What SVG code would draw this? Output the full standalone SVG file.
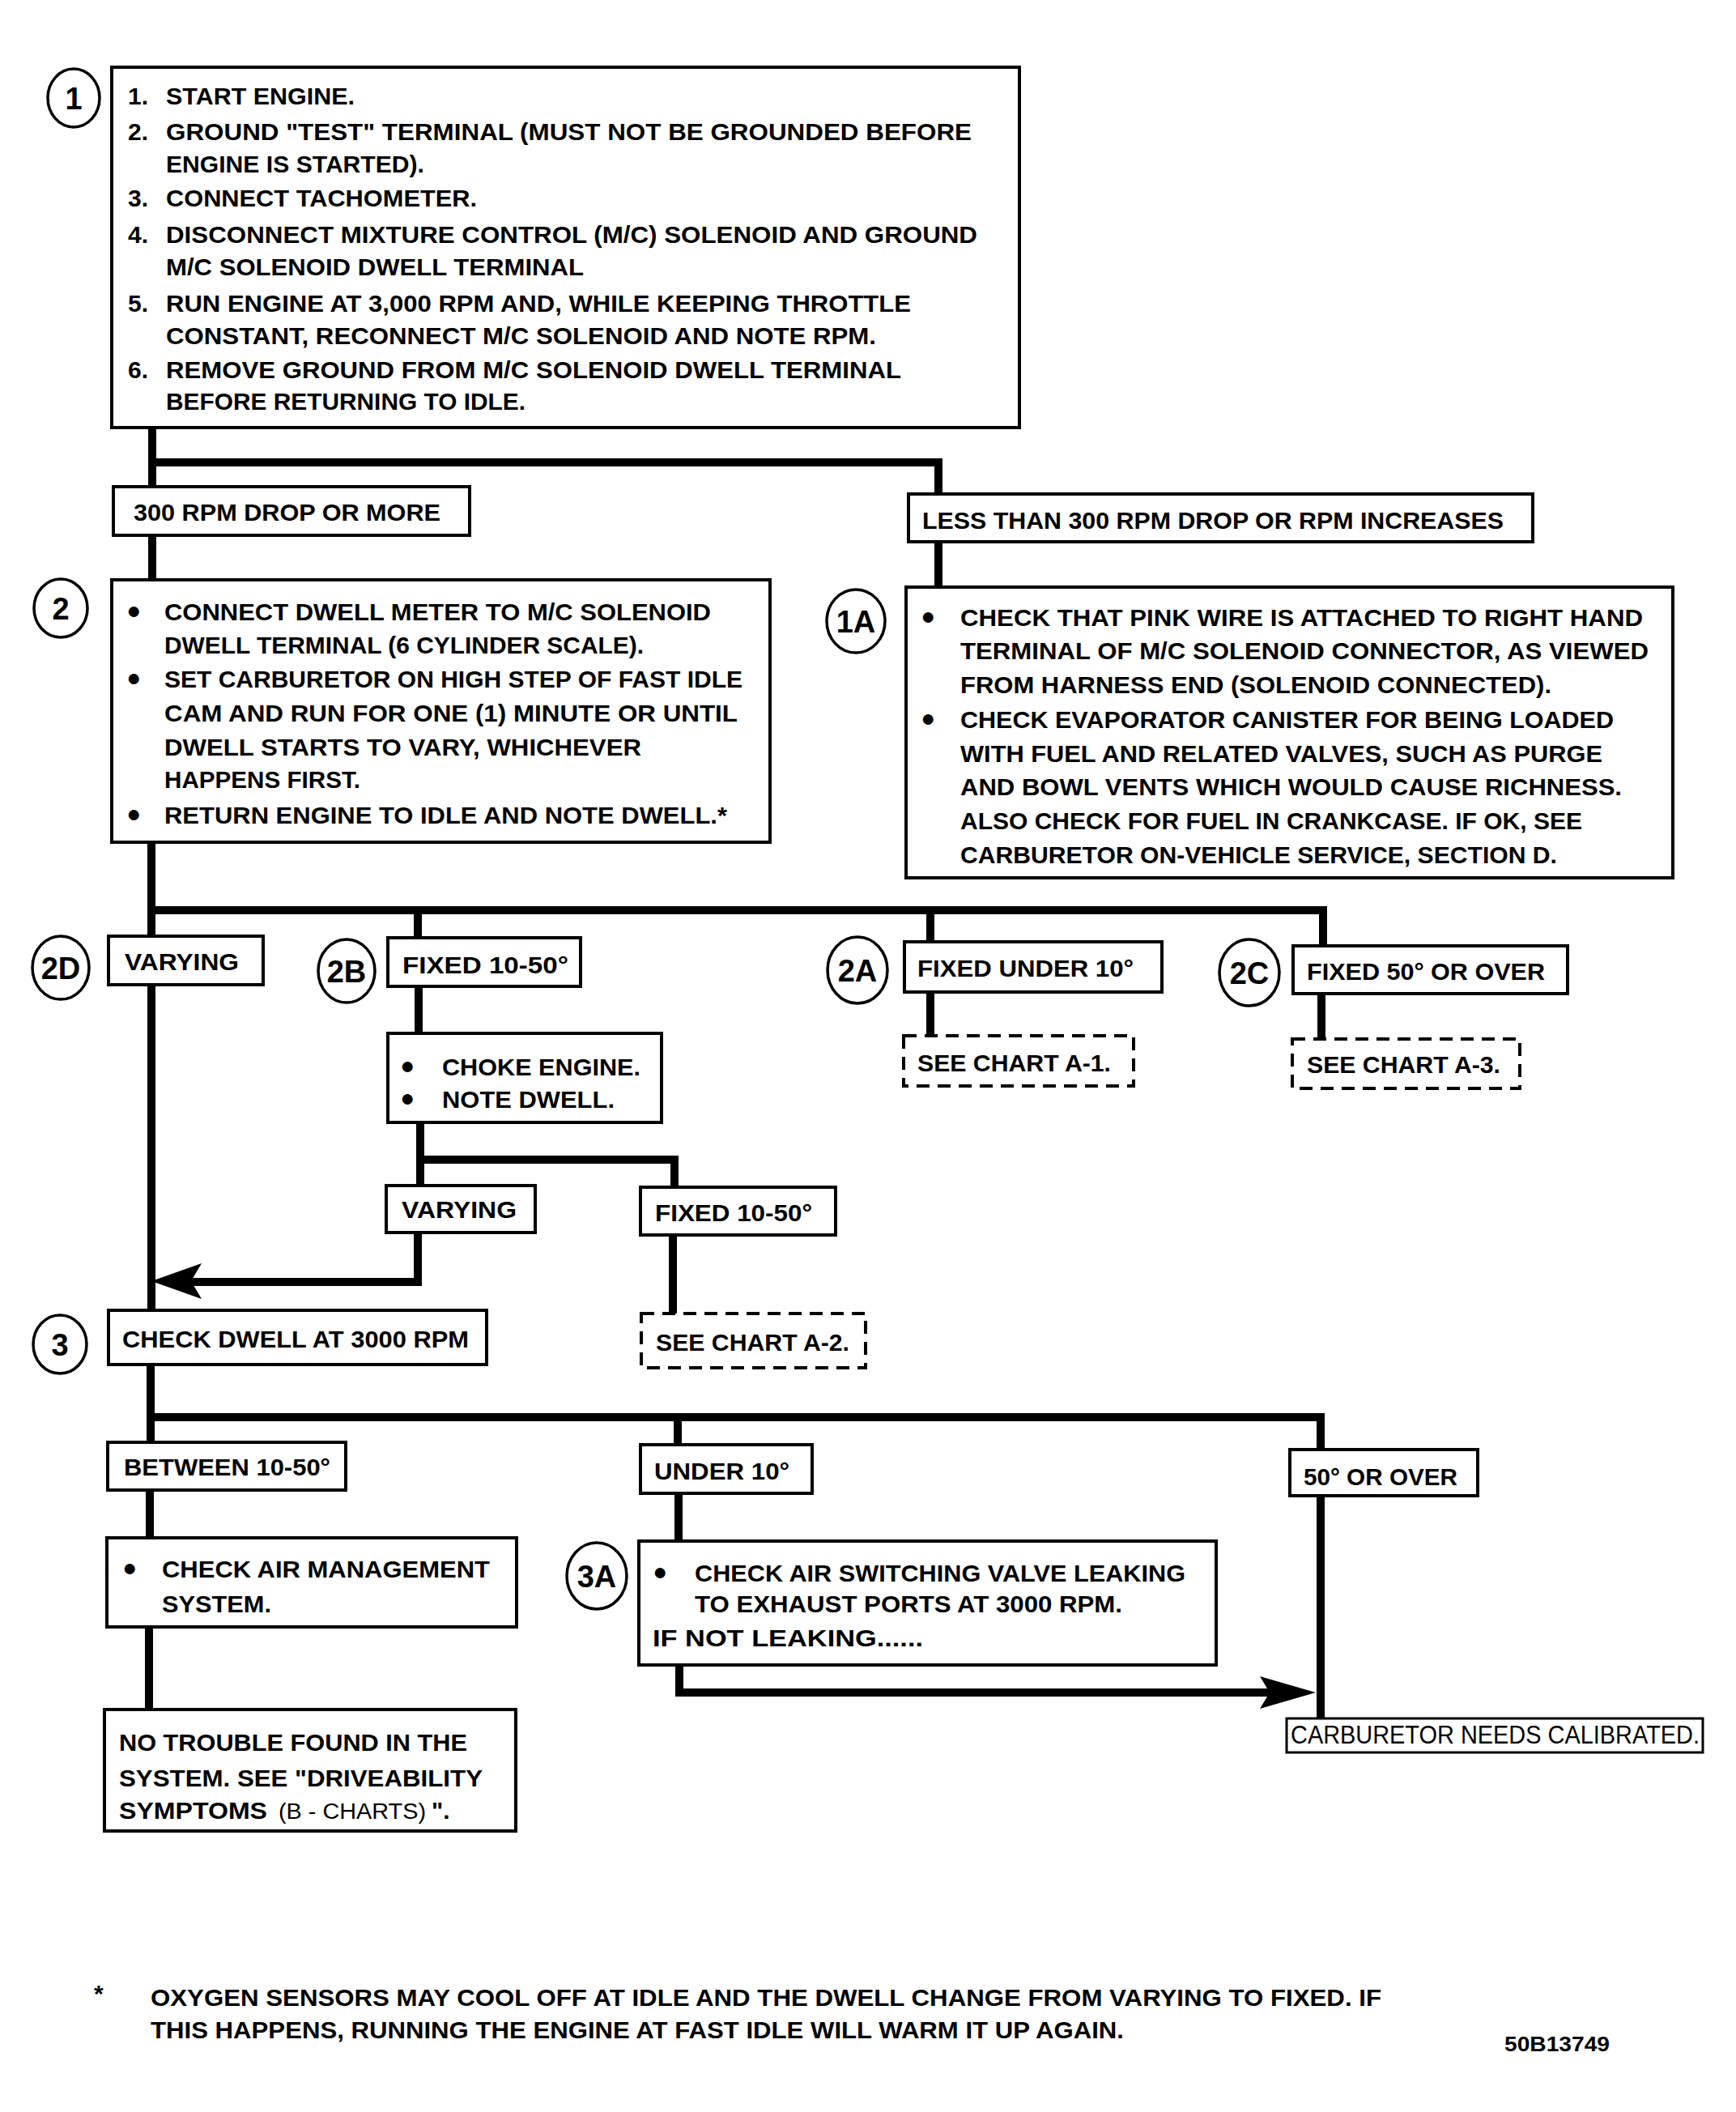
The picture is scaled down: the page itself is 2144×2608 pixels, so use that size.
<svg xmlns="http://www.w3.org/2000/svg" width="2144" height="2608" viewBox="0 0 2144 2608">
<style>
.bg{fill:#fff}
.box{fill:#fff;stroke:#000;stroke-width:4}
.dash{fill:#fff;stroke:#000;stroke-width:4;stroke-dasharray:16 10}
.circ{fill:#fff;stroke:#000;stroke-width:3.5}
.ln{fill:none;stroke:#000;stroke-width:10;stroke-linejoin:miter}
.ar{fill:#000}
text{font-family:"Liberation Sans",Arial,sans-serif;fill:#000}
.t{font-size:30px;font-weight:bold}
.n{font-size:38px;font-weight:bold;text-anchor:middle}
.b{font-size:30px;font-weight:normal;text-anchor:middle}
.r{font-size:31px;font-weight:normal}
</style>
<rect class="bg" x="0" y="0" width="2144" height="2608"/>

<g id="connectors">
<path class="ln" d="M188,528 V601 M188,661 V716"/>
<path class="ln" d="M188,571 H1159 V610 M1159,669 V725"/>
<path class="ln" d="M187,1040 V1618"/>
<path class="ln" d="M187,1124 H1634 V1168"/>
<path class="ln" d="M516,1124 V1158 M517,1218 V1276"/>
<path class="ln" d="M1149,1124 V1163 M1149,1225 V1279"/>
<path class="ln" d="M1632,1227 V1283"/>
<path class="ln" d="M519,1386 V1464 M519,1432 H833 V1466"/>
<path class="ln" d="M516,1522 V1583 H236"/>
<polygon class="ar" points="187,1582 249,1560 236,1582 249,1604"/>
<path class="ln" d="M831,1525 V1622"/>
<path class="ln" d="M186,1685 V1781 M186,1750 H1631 V1790 M837,1750 V1784"/>
<path class="ln" d="M185,1840 V1899 M184,2009 V2111"/>
<path class="ln" d="M838,1844 V1903 M839,2056 V2090 H1570"/>
<polygon class="ar" points="1625,2090 1556,2070 1568,2090 1556,2110"/>
<path class="ln" d="M1631,1847 V2122"/>
</g>

<g id="step1">
<ellipse class="circ" cx="91" cy="121" rx="32" ry="36"/>
<text class="n" x="91" y="135">1</text>
<rect class="box" x="138" y="83" width="1121" height="445"/>
<text class="t" x="158" y="129">1.</text><text class="t" x="205" y="129" textLength="233" lengthAdjust="spacingAndGlyphs">START ENGINE.</text>
<text class="t" x="158" y="173">2.</text><text class="t" x="205" y="173" textLength="995" lengthAdjust="spacingAndGlyphs">GROUND "TEST" TERMINAL  (MUST NOT BE GROUNDED BEFORE</text>
<text class="t" x="205" y="213" textLength="319" lengthAdjust="spacingAndGlyphs">ENGINE IS STARTED).</text>
<text class="t" x="158" y="255">3.</text><text class="t" x="205" y="255" textLength="384" lengthAdjust="spacingAndGlyphs">CONNECT TACHOMETER.</text>
<text class="t" x="158" y="300">4.</text><text class="t" x="205" y="300" textLength="1002" lengthAdjust="spacingAndGlyphs">DISCONNECT MIXTURE CONTROL (M/C) SOLENOID AND GROUND</text>
<text class="t" x="205" y="340" textLength="516" lengthAdjust="spacingAndGlyphs">M/C SOLENOID DWELL TERMINAL</text>
<text class="t" x="158" y="385">5.</text><text class="t" x="205" y="385" textLength="920" lengthAdjust="spacingAndGlyphs">RUN ENGINE AT 3,000 RPM AND, WHILE KEEPING THROTTLE</text>
<text class="t" x="205" y="425" textLength="877" lengthAdjust="spacingAndGlyphs">CONSTANT, RECONNECT M/C SOLENOID AND NOTE RPM.</text>
<text class="t" x="158" y="467">6.</text><text class="t" x="205" y="467" textLength="908" lengthAdjust="spacingAndGlyphs">REMOVE GROUND FROM M/C SOLENOID DWELL TERMINAL</text>
<text class="t" x="205" y="506" textLength="444" lengthAdjust="spacingAndGlyphs">BEFORE RETURNING TO IDLE.</text>
</g>

<g id="lbl-300drop">
<rect class="box" x="140" y="601" width="440" height="60"/>
<text class="t" x="165" y="643" textLength="379" lengthAdjust="spacingAndGlyphs">300 RPM DROP OR MORE</text>
</g>

<g id="lbl-lessthan">
<rect class="box" x="1122" y="610" width="771" height="59"/>
<text class="t" x="1139" y="653" textLength="718" lengthAdjust="spacingAndGlyphs">LESS THAN 300 RPM DROP OR RPM INCREASES</text>
</g>

<g id="step2">
<ellipse class="circ" cx="75" cy="751" rx="33" ry="36"/>
<text class="n" x="75" y="765">2</text>
<rect class="box" x="138" y="716" width="813" height="324"/>
<text class="b" x="165" y="764">●</text>
<text class="t" x="203" y="766" textLength="675" lengthAdjust="spacingAndGlyphs">CONNECT DWELL METER TO M/C SOLENOID</text>
<text class="t" x="203" y="807" textLength="592" lengthAdjust="spacingAndGlyphs">DWELL TERMINAL (6 CYLINDER SCALE).</text>
<text class="b" x="165" y="847">●</text>
<text class="t" x="203" y="849" textLength="714" lengthAdjust="spacingAndGlyphs">SET CARBURETOR ON HIGH STEP OF FAST IDLE</text>
<text class="t" x="203" y="891" textLength="708" lengthAdjust="spacingAndGlyphs">CAM AND RUN FOR ONE (1) MINUTE OR UNTIL</text>
<text class="t" x="203" y="933" textLength="589" lengthAdjust="spacingAndGlyphs">DWELL STARTS TO VARY, WHICHEVER</text>
<text class="t" x="203" y="973" textLength="242" lengthAdjust="spacingAndGlyphs">HAPPENS FIRST.</text>
<text class="b" x="165" y="1015">●</text>
<text class="t" x="203" y="1017" textLength="695" lengthAdjust="spacingAndGlyphs">RETURN ENGINE TO IDLE AND NOTE DWELL.*</text>
</g>

<g id="step1A">
<ellipse class="circ" cx="1057" cy="767" rx="36" ry="39"/>
<text class="n" x="1057" y="781">1A</text>
<rect class="box" x="1119" y="725" width="947" height="359"/>
<text class="b" x="1146" y="771">●</text>
<text class="t" x="1186" y="773" textLength="843" lengthAdjust="spacingAndGlyphs">CHECK THAT PINK WIRE IS ATTACHED TO RIGHT HAND</text>
<text class="t" x="1186" y="814" textLength="850" lengthAdjust="spacingAndGlyphs">TERMINAL OF M/C SOLENOID CONNECTOR, AS VIEWED</text>
<text class="t" x="1186" y="856" textLength="730" lengthAdjust="spacingAndGlyphs">FROM HARNESS END (SOLENOID CONNECTED).</text>
<text class="b" x="1146" y="897">●</text>
<text class="t" x="1186" y="899" textLength="807" lengthAdjust="spacingAndGlyphs">CHECK EVAPORATOR CANISTER FOR BEING LOADED</text>
<text class="t" x="1186" y="941" textLength="793" lengthAdjust="spacingAndGlyphs">WITH FUEL AND RELATED VALVES, SUCH AS PURGE</text>
<text class="t" x="1186" y="982" textLength="817" lengthAdjust="spacingAndGlyphs">AND BOWL VENTS WHICH WOULD CAUSE RICHNESS.</text>
<text class="t" x="1186" y="1024" textLength="768" lengthAdjust="spacingAndGlyphs">ALSO CHECK FOR FUEL IN CRANKCASE.  IF OK, SEE</text>
<text class="t" x="1186" y="1066" textLength="737" lengthAdjust="spacingAndGlyphs">CARBURETOR ON-VEHICLE SERVICE, SECTION D.</text>
</g>

<g id="step2D">
<ellipse class="circ" cx="75" cy="1195" rx="35" ry="39"/>
<text class="n" x="75" y="1209">2D</text>
<rect class="box" x="134" y="1156" width="191" height="60"/>
<text class="t" x="154" y="1198" textLength="141" lengthAdjust="spacingAndGlyphs">VARYING</text>
</g>

<g id="step2B">
<ellipse class="circ" cx="428" cy="1199" rx="35" ry="39"/>
<text class="n" x="428" y="1213">2B</text>
<rect class="box" x="479" y="1158" width="238" height="60"/>
<text class="t" x="497" y="1202" textLength="205" lengthAdjust="spacingAndGlyphs">FIXED 10-50°</text>
</g>

<g id="choke">
<rect class="box" x="479" y="1276" width="338" height="110"/>
<text class="b" x="503" y="1326">●</text>
<text class="t" x="546" y="1328" textLength="245" lengthAdjust="spacingAndGlyphs">CHOKE ENGINE.</text>
<text class="b" x="503" y="1366">●</text>
<text class="t" x="546" y="1368" textLength="213" lengthAdjust="spacingAndGlyphs">NOTE DWELL.</text>
</g>

<g id="varying2">
<rect class="box" x="477" y="1464" width="184" height="58"/>
<text class="t" x="496" y="1504" textLength="142" lengthAdjust="spacingAndGlyphs">VARYING</text>
</g>

<g id="fixed2">
<rect class="box" x="791" y="1466" width="241" height="59"/>
<text class="t" x="809" y="1508" textLength="194" lengthAdjust="spacingAndGlyphs">FIXED 10-50°</text>
</g>

<g id="chartA2">
<rect class="dash" x="792" y="1622" width="277" height="67"/>
<text class="t" x="810" y="1668" textLength="239" lengthAdjust="spacingAndGlyphs">SEE CHART A-2.</text>
</g>

<g id="step2A">
<ellipse class="circ" cx="1059" cy="1198" rx="37" ry="41"/>
<text class="n" x="1059" y="1212">2A</text>
<rect class="box" x="1117" y="1163" width="318" height="62"/>
<text class="t" x="1133" y="1206" textLength="267" lengthAdjust="spacingAndGlyphs">FIXED UNDER 10°</text>
</g>

<g id="chartA1">
<rect class="dash" x="1116" y="1279" width="284" height="62"/>
<text class="t" x="1133" y="1323" textLength="239" lengthAdjust="spacingAndGlyphs">SEE CHART A-1.</text>
</g>

<g id="step2C">
<ellipse class="circ" cx="1543" cy="1201" rx="37" ry="41"/>
<text class="n" x="1543" y="1215">2C</text>
<rect class="box" x="1597" y="1168" width="339" height="59"/>
<text class="t" x="1614" y="1210" textLength="294" lengthAdjust="spacingAndGlyphs">FIXED 50° OR OVER</text>
</g>

<g id="chartA3">
<rect class="dash" x="1596" y="1283" width="281" height="61"/>
<text class="t" x="1614" y="1325" textLength="239" lengthAdjust="spacingAndGlyphs">SEE CHART A-3.</text>
</g>

<g id="step3">
<ellipse class="circ" cx="74" cy="1660" rx="33" ry="36"/>
<text class="n" x="74" y="1674">3</text>
<rect class="box" x="134" y="1618" width="467" height="67"/>
<text class="t" x="151" y="1664" textLength="428" lengthAdjust="spacingAndGlyphs">CHECK DWELL AT 3000 RPM</text>
</g>

<g id="between">
<rect class="box" x="133" y="1781" width="294" height="59"/>
<text class="t" x="153" y="1822" textLength="255" lengthAdjust="spacingAndGlyphs">BETWEEN 10-50°</text>
</g>

<g id="under10">
<rect class="box" x="791" y="1784" width="212" height="60"/>
<text class="t" x="808" y="1827" textLength="167" lengthAdjust="spacingAndGlyphs">UNDER 10°</text>
</g>

<g id="over50">
<rect class="box" x="1593" y="1790" width="232" height="57"/>
<text class="t" x="1610" y="1834" textLength="190" lengthAdjust="spacingAndGlyphs">50° OR OVER</text>
</g>

<g id="airmgmt">
<rect class="box" x="132" y="1899" width="506" height="110"/>
<text class="b" x="160" y="1946">●</text>
<text class="t" x="200" y="1948" textLength="405" lengthAdjust="spacingAndGlyphs">CHECK AIR MANAGEMENT</text>
<text class="t" x="200" y="1991" textLength="135" lengthAdjust="spacingAndGlyphs">SYSTEM.</text>
</g>

<g id="notrouble">
<rect class="box" x="129" y="2111" width="508" height="150"/>
<text class="t" x="147" y="2162" textLength="430" lengthAdjust="spacingAndGlyphs">NO TROUBLE FOUND IN THE</text>
<text class="t" x="147" y="2206" textLength="449" lengthAdjust="spacingAndGlyphs">SYSTEM.  SEE "DRIVEABILITY</text>
<text class="t" x="147" y="2246" textLength="183" lengthAdjust="spacingAndGlyphs">SYMPTOMS</text>
<text class="r" x="344" y="2246" style="font-size:27px" textLength="182" lengthAdjust="spacingAndGlyphs">(B - CHARTS)</text>
<text class="t" x="533" y="2246">".</text>
</g>

<g id="step3A">
<ellipse class="circ" cx="737" cy="1946" rx="37" ry="41"/>
<text class="n" x="737" y="1960">3A</text>
<rect class="box" x="789" y="1903" width="713" height="153"/>
<text class="b" x="815" y="1951">●</text>
<text class="t" x="858" y="1953" textLength="606" lengthAdjust="spacingAndGlyphs">CHECK AIR SWITCHING VALVE LEAKING</text>
<text class="t" x="858" y="1991" textLength="528" lengthAdjust="spacingAndGlyphs">TO EXHAUST PORTS AT 3000 RPM.</text>
<text class="t" x="806" y="2033" textLength="334" lengthAdjust="spacingAndGlyphs">IF NOT LEAKING......</text>
</g>

<g id="calibrate">
<rect class="box" x="1589" y="2122" width="514" height="42" style="stroke-width:3"/>
<text class="r" x="1594" y="2153" textLength="505" lengthAdjust="spacingAndGlyphs">CARBURETOR NEEDS CALIBRATED.</text>
</g>

<g id="footnote">
<text class="t" x="116" y="2472">*</text>
<text class="t" x="186" y="2477" textLength="1520" lengthAdjust="spacingAndGlyphs">OXYGEN SENSORS MAY COOL OFF AT IDLE AND THE DWELL CHANGE FROM VARYING TO FIXED.  IF</text>
<text class="t" x="186" y="2517" textLength="1202" lengthAdjust="spacingAndGlyphs">THIS HAPPENS, RUNNING THE ENGINE AT FAST IDLE WILL WARM IT UP AGAIN.</text>
<text class="t" x="1858" y="2533" style="font-size:25px" textLength="130" lengthAdjust="spacingAndGlyphs">50B13749</text>
</g>
</svg>
